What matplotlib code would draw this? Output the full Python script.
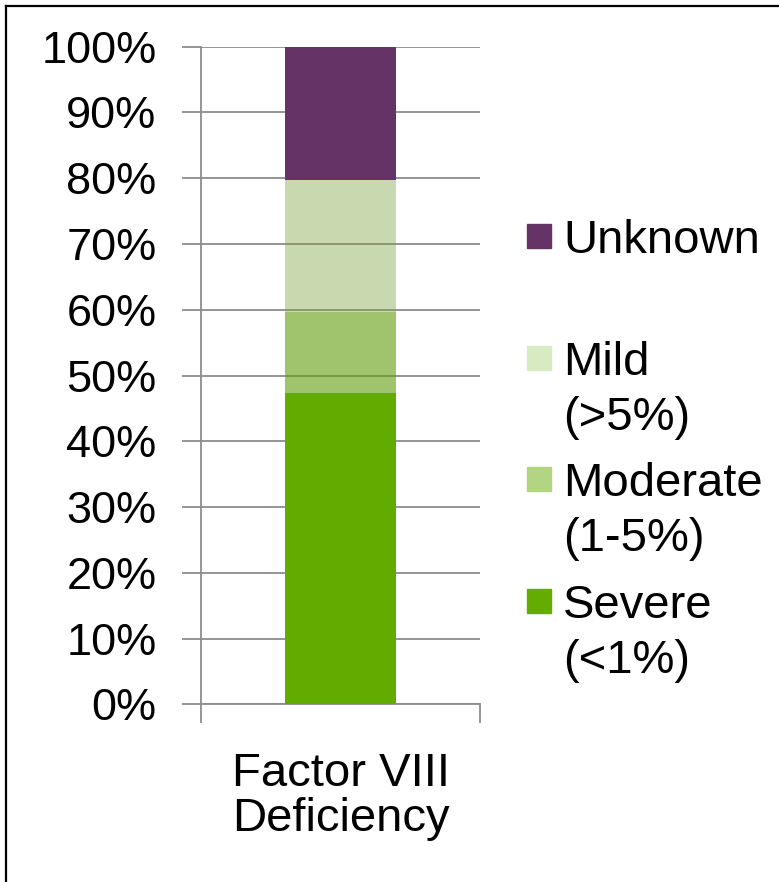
import matplotlib
matplotlib.use("Agg")
import matplotlib.pyplot as plt
from matplotlib.patches import Rectangle
from matplotlib.lines import Line2D

plt.rcParams["font.family"] = ["Liberation Sans", "DejaVu Sans"]

# data (percent of patients, stacked bottom -> top)
category = "Factor VIII\nDeficiency"
series = ["Severe\n(<1%)", "Moderate\n(1-5%)", "Mild\n(>5%)", "Unknown"]
values = [47.4, 12.2, 20.1, 20.3]
bar_colors = ["#62ac00", "#619b0d", "#7aa039", "#663366"]
bar_alpha = [1.0, 0.6, 0.4, 1.0]
legend_colors = ["#64ac00", "#b1d580", "#d7eac1", "#663366"]
yticks = list(range(0, 101, 10))

W, H = 779, 882
fig = plt.figure(figsize=(W / 100, H / 100), dpi=100)
ax = fig.add_axes([201 / W, 1 - 704.3 / H, (480 - 201) / W, (704.3 - 46.7) / H])

grid_c = "#8c8c8c"
bottom = 0
for v, c, a in zip(values, bar_colors, bar_alpha):
    ax.bar(0, v, width=0.4, bottom=bottom, color=c, alpha=a, zorder=3, linewidth=0)
    bottom += v

ax.set_xlim(-0.5, 0.5)
ax.set_ylim(0, 100)
ax.set_yticks(yticks)
ax.set_yticklabels([f"{t}%" for t in yticks], fontsize=32.5)
ax.yaxis.grid(True, color=grid_c, linewidth=1.3, zorder=1)
ax.set_axisbelow(True)
ax.tick_params(axis="y", length=14, width=1.3, color=grid_c, pad=18)

ax.set_xticks([0])
ax.set_xticklabels([category], fontsize=34, linespacing=1.05)
ax.set_xticks([-0.5, 0.5], minor=True)
ax.tick_params(axis="x", which="major", length=0, pad=34)
ax.tick_params(axis="x", which="minor", length=14, width=1.3, color=grid_c)

for s in ["top", "right"]:
    ax.spines[s].set_visible(False)
for s in ["left", "bottom"]:
    ax.spines[s].set_color(grid_c)
    ax.spines[s].set_linewidth(1.3)

# legend drawn by hand: top entry first, patch aligned with first text line
first_base = 252.7
step = 121.8
line_gap = 55
for i, (lab, col) in enumerate(zip(series[::-1], legend_colors[::-1])):
    base = first_base + i * step
    fig.patches.append(Rectangle((527 / W, 1 - (base - 5) / H), 24 / W, 24 / H,
                                 transform=fig.transFigure, color=col))
    for j, line in enumerate(lab.split("\n")):
        fig.text(563 / W, 1 - (base + j * line_gap) / H, line, fontsize=34,
                 ha="left", va="baseline")

# frame of the slide (top and left edges only)
fig.add_artist(Line2D([6 / W, 1], [1 - 6 / H, 1 - 6 / H], color="black", linewidth=1.6))
fig.add_artist(Line2D([6 / W, 6 / W], [0, 1 - 6 / H], color="black", linewidth=1.6))

fig.savefig("out.png", dpi=100)
